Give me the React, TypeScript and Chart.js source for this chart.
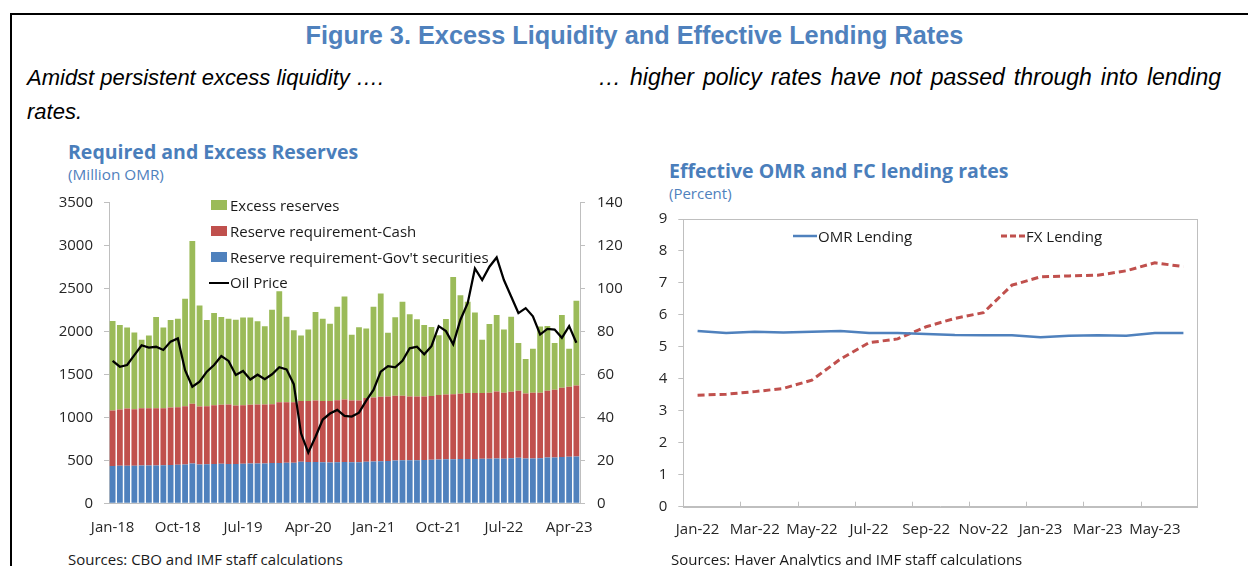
import React, { useEffect, useRef } from "react";
import { Chart, registerables } from "chart.js";

Chart.register(...registerables);

// ---------- Left chart data (Million OMR / USD per barrel) ----------
const months = (
  "Jan-18 Feb-18 Mar-18 Apr-18 May-18 Jun-18 Jul-18 Aug-18 Sep-18 Oct-18 Nov-18 Dec-18 " +
  "Jan-19 Feb-19 Mar-19 Apr-19 May-19 Jun-19 Jul-19 Aug-19 Sep-19 Oct-19 Nov-19 Dec-19 " +
  "Jan-20 Feb-20 Mar-20 Apr-20 May-20 Jun-20 Jul-20 Aug-20 Sep-20 Oct-20 Nov-20 Dec-20 " +
  "Jan-21 Feb-21 Mar-21 Apr-21 May-21 Jun-21 Jul-21 Aug-21 Sep-21 Oct-21 Nov-21 Dec-21 " +
  "Jan-22 Feb-22 Mar-22 Apr-22 May-22 Jun-22 Jul-22 Aug-22 Sep-22 Oct-22 Nov-22 Dec-22 " +
  "Jan-23 Feb-23 Mar-23 Apr-23 May-23"
).split(" ");

const govSecurities = [
  434, 437, 438, 438, 440, 440, 441, 443, 445, 448, 452, 462, 452, 455, 458, 460, 457, 458, 460, 462,
  463, 464, 470, 470, 472, 473, 485, 480, 480, 478, 475, 478, 482, 478, 478, 485, 487, 490, 493, 497,
  500, 500, 500, 503, 506, 510, 512, 513, 515, 515, 517, 519, 519, 522, 520, 525, 530, 522, 522, 525,
  532, 534, 540, 542, 545,
];

const cashReq = [
  647, 655, 666, 658, 668, 668, 667, 665, 670, 671, 679, 696, 675, 676, 684, 686, 693, 680, 682, 684,
  687, 686, 684, 707, 705, 704, 707, 710, 718, 712, 715, 722, 726, 720, 720, 740, 746, 750, 751, 755,
  752, 744, 744, 741, 742, 750, 755, 758, 760, 768, 766, 764, 768, 780, 767, 773, 780, 757, 765, 762,
  778, 788, 805, 815, 827,
];

const excessReserves = [
  1042, 985, 942, 892, 796, 846, 1061, 938, 1020, 1031, 1250, 1896, 1177, 1004, 1073, 1023, 1000, 1000, 1020, 1016,
  969, 912, 1100, 1292, 996, 838, 762, 833, 1029, 960, 902, 1088, 1200, 764, 852, 810, 1055, 1202, 741, 913,
  1094, 956, 898, 833, 806, 698, 879, 1364, 1148, 1063, 940, 621, 801, 890, 736, 875, 555, 402, 513, 771,
  755, 543, 847, 443, 986,
];

const oilPrice = [
  66.3, 63.6, 64.4, 69.0, 73.6, 72.5, 72.9, 71.4, 75.3, 76.8, 62.0, 54.3, 56.6, 61.3, 64.4, 68.6, 66.3, 59.8, 61.6, 57.7,
  59.9, 57.8, 60.1, 63.4, 62.4, 55.5, 32.6, 23.6, 31.0, 39.0, 41.8, 43.5, 40.7, 40.4, 42.2, 47.8, 52.8, 61.3, 63.9, 63.3,
  66.4, 72.2, 72.9, 69.4, 73.2, 82.5, 80.2, 74.0, 85.5, 93.2, 109.4, 104.0, 110.2, 114.5, 104.0, 96.3, 88.6, 90.9, 87.1, 78.6,
  81.2, 80.9, 77.1, 82.5, 74.8,
];

// ---------- Right chart data (Percent) ----------
const rateMonths = [
  "Jan-22", "Feb-22", "Mar-22", "Apr-22", "May-22", "Jun-22", "Jul-22", "Aug-22", "Sep-22",
  "Oct-22", "Nov-22", "Dec-22", "Jan-23", "Feb-23", "Mar-23", "Apr-23", "May-23", "Jun-23",
];
const omrLending = [5.5, 5.43, 5.47, 5.45, 5.47, 5.5, 5.43, 5.43, 5.4, 5.37, 5.36, 5.36, 5.3, 5.35, 5.36, 5.35, 5.43, 5.43];
const fxLending = [3.49, 3.52, 3.6, 3.7, 3.96, 4.62, 5.13, 5.25, 5.63, 5.89, 6.07, 6.93, 7.19, 7.22, 7.24, 7.38, 7.63, 7.51];

const BLUE = "#4f81bd";
const RED = "#c0504d";
const GREEN = "#9bbb59";
const AXIS = "#bfbfbf";
const TICKTXT = "#262626";
const TITLE = "#4a7ebb";
const FONT = "'Open Sans', 'Noto Sans', sans-serif";

const frameTicks = {
  id: "frameTicks",
  beforeDatasetsDraw(chart: any) {
    const { ctx, chartArea: a, scales } = chart;
    const x = scales.x;
    ctx.save();
    ctx.strokeStyle = AXIS;
    ctx.lineWidth = 1;
    ctx.strokeRect(Math.round(a.left) + 0.5, Math.round(a.top) + 0.5, Math.round(a.right - a.left), Math.round(a.bottom - a.top));
    for (let i = 2; i < rateMonths.length; i += 2) {
      const px = Math.round((x.getPixelForValue(i - 1) + x.getPixelForValue(i)) / 2) + 0.5;
      ctx.beginPath();
      ctx.moveTo(px, a.bottom);
      ctx.lineTo(px, a.bottom - 5);
      ctx.stroke();
    }
    ctx.restore();
  },
};

function fixV(width: number) {
  return (s: any) => {
    s.width = width;
    s.paddingTop = 0;
    s.paddingBottom = 0;
  };
}
function fixH(height: number) {
  return (s: any) => {
    s.height = height;
    s.paddingLeft = 0;
    s.paddingRight = 0;
  };
}

function Txt(props: { x: number; cy: number; size: number; lh?: number; style?: any; children: any }) {
  const lh = props.lh ?? Math.round(props.size * 1.4);
  return (
    <div
      style={{
        position: "absolute",
        left: props.x,
        top: props.cy - lh / 2,
        lineHeight: lh + "px",
        fontSize: props.size,
        whiteSpace: "nowrap",
        fontFamily: FONT,
        color: "#1a1a1a",
        ...props.style,
      }}
    >
      {props.children}
    </div>
  );
}

export default function App() {
  const leftRef = useRef<HTMLCanvasElement>(null);
  const rightRef = useRef<HTMLCanvasElement>(null);

  useEffect(() => {
    Chart.defaults.font.family = FONT;
    const tickFont = { family: FONT, size: 15 };
    const plain = (v: any) => String(v);

    const c1 = new Chart(leftRef.current!, {
      type: "bar",
      data: {
        labels: months,
        datasets: [
          {
            type: "line",
            label: "Oil Price",
            data: oilPrice,
            yAxisID: "yR",
            borderColor: "#000000",
            borderWidth: 2.25,
            pointRadius: 0,
            tension: 0,
            order: 0,
          } as any,
          { label: "Reserve requirement-Gov't securities", data: govSecurities, backgroundColor: BLUE, yAxisID: "y", order: 1, barPercentage: 0.8, categoryPercentage: 1 },
          { label: "Reserve requirement-Cash", data: cashReq, backgroundColor: RED, yAxisID: "y", order: 2, barPercentage: 0.8, categoryPercentage: 1 },
          { label: "Excess reserves", data: excessReserves, backgroundColor: GREEN, yAxisID: "y", order: 3, barPercentage: 0.8, categoryPercentage: 1 },
        ],
      },
      options: {
        animation: false,
        responsive: false,
        devicePixelRatio: 1,
        layout: { padding: { top: 12.7, left: 0, right: 0, bottom: 0 } },
        plugins: { legend: { display: false }, tooltip: { enabled: false } },
        scales: {
          x: {
            stacked: true,
            offset: true,
            grid: { display: true, drawOnChartArea: false, drawTicks: false },
            border: { display: true, color: AXIS },
            ticks: {
              autoSkip: false,
              maxRotation: 0,
              minRotation: 0,
              padding: 15,
              color: TICKTXT,
              font: tickFont,
              callback: (_v: any, i: number) => (i % 9 === 0 ? months[i] : ""),
            },
            afterFit: fixH(36.7),
          },
          y: {
            stacked: true,
            position: "left",
            min: 0,
            max: 3500,
            grid: { drawOnChartArea: false, drawTicks: true, tickLength: 5, tickColor: AXIS },
            border: { display: true, color: AXIS },
            ticks: { stepSize: 500, padding: 11, color: TICKTXT, font: tickFont, callback: plain },
            afterFit: fixV(69),
          },
          yR: {
            stacked: false,
            position: "right",
            min: 0,
            max: 140,
            grid: { drawOnChartArea: false, drawTicks: true, tickLength: 5, tickColor: AXIS },
            border: { display: true, color: AXIS },
            ticks: { stepSize: 20, padding: 12, color: TICKTXT, font: tickFont, callback: plain },
            afterFit: fixV(60),
          },
        },
      } as any,
    });

    const c2 = new Chart(rightRef.current!, {
      type: "line",
      data: {
        labels: rateMonths,
        datasets: [
          { label: "OMR Lending", data: omrLending, borderColor: BLUE, borderWidth: 2.5, pointRadius: 0, tension: 0 },
          { label: "FX Lending", data: fxLending, borderColor: RED, borderWidth: 3, borderDash: [7, 4], pointRadius: 0, tension: 0 },
        ],
      },
      options: {
        animation: false,
        responsive: false,
        devicePixelRatio: 1,
        layout: { padding: { top: 19, left: 0, right: 32.3, bottom: 0 } },
        plugins: { legend: { display: false }, tooltip: { enabled: false } },
        scales: {
          x: {
            offset: true,
            grid: { display: true, drawOnChartArea: false, drawTicks: false },
            border: { display: true, color: AXIS },
            ticks: {
              autoSkip: false,
              maxRotation: 0,
              minRotation: 0,
              padding: 14,
              color: TICKTXT,
              font: tickFont,
              callback: (_v: any, i: number) => (i % 2 === 0 ? rateMonths[i] : ""),
            },
            afterFit: fixH(38.3),
          },
          y: {
            min: 0,
            max: 9,
            grid: { drawOnChartArea: false, drawTicks: true, tickLength: 5, tickColor: AXIS },
            border: { display: true, color: AXIS },
            ticks: { stepSize: 1, padding: 11, color: TICKTXT, font: tickFont, callback: plain },
            afterFit: fixV(53.3),
          },
        },
      } as any,
      plugins: [frameTicks],
    });

    return () => {
      c1.destroy();
      c2.destroy();
    };
  }, []);

  const arial = "'Liberation Sans', Arial, sans-serif";

  return (
    <div style={{ position: "absolute", left: 0, top: 0, width: 1248, height: 566, overflow: "hidden", background: "#ffffff" }}>
      {/* frame */}
      <div style={{ position: "absolute", left: 10, top: 13, width: 1300, height: 700, border: "2px solid #000", boxSizing: "border-box" }} />

      {/* main title */}
      <div
        style={{
          position: "absolute",
          left: 0,
          width: 1269,
          top: 35 - 16,
          lineHeight: "32px",
          textAlign: "center",
          fontFamily: arial,
          fontWeight: "bold",
          fontSize: 25.3,
          color: BLUE,
          whiteSpace: "nowrap",
        }}
      >
        Figure 3. Excess Liquidity and Effective Lending Rates
      </div>
      <Txt x={27} cy={77} size={22} style={{ fontFamily: arial, fontStyle: "italic", color: "#000" }}>
        Amidst persistent excess liquidity ….
      </Txt>
      <Txt x={598} cy={77} size={23} style={{ fontFamily: arial, fontStyle: "italic", color: "#000", wordSpacing: "2.6px" }}>
        … higher policy rates have not passed through into lending
      </Txt>
      <Txt x={27} cy={111} size={22} style={{ fontFamily: arial, fontStyle: "italic", color: "#000" }}>
        rates.
      </Txt>

      {/* left panel headings */}
      <Txt x={68} cy={151} size={19.5} style={{ fontWeight: "bold", color: TITLE }}>
        Required and Excess Reserves
      </Txt>
      <Txt x={68} cy={174} size={15.3} style={{ color: BLUE }}>
        (Million OMR)
      </Txt>

      {/* right panel headings */}
      <Txt x={669} cy={170} size={19.5} style={{ fontWeight: "bold", color: TITLE }}>
        Effective OMR and FC lending rates
      </Txt>
      <Txt x={669} cy={193} size={15} style={{ color: BLUE }}>
        (Percent)
      </Txt>

      <canvas ref={leftRef} width={600} height={350} style={{ position: "absolute", left: 40, top: 190, width: 600, height: 350 }} />
      <canvas ref={rightRef} width={600} height={345} style={{ position: "absolute", left: 630, top: 200, width: 600, height: 345 }} />

      {/* left legend */}
      <div style={{ position: "absolute", left: 211, top: 200, width: 16, height: 10, background: GREEN }} />
      <Txt x={230} cy={205} size={15}>Excess reserves</Txt>
      <div style={{ position: "absolute", left: 211, top: 226, width: 16, height: 10, background: RED }} />
      <Txt x={230} cy={231} size={15}>Reserve requirement-Cash</Txt>
      <div style={{ position: "absolute", left: 211, top: 252, width: 16, height: 10, background: BLUE }} />
      <Txt x={230} cy={257} size={15}>Reserve requirement-Gov't securities</Txt>
      <div style={{ position: "absolute", left: 209, top: 281.5, width: 20, height: 2, background: "#000" }} />
      <Txt x={230} cy={282.5} size={15}>Oil Price</Txt>

      {/* right legend */}
      <svg style={{ position: "absolute", left: 792, top: 230 }} width={26} height={12}>
        <line x1={1} y1={6} x2={25} y2={6} stroke={BLUE} strokeWidth={2.5} />
      </svg>
      <Txt x={818} cy={236} size={15}>OMR Lending</Txt>
      <svg style={{ position: "absolute", left: 1000, top: 230 }} width={26} height={12}>
        <line x1={1} y1={6} x2={25} y2={6} stroke={RED} strokeWidth={3} strokeDasharray="6 3" />
      </svg>
      <Txt x={1026} cy={236} size={15}>FX Lending</Txt>

      {/* sources */}
      <Txt x={68} cy={559} size={15}>Sources: CBO and IMF staff calculations</Txt>
      <Txt x={671} cy={559} size={15}>Sources: Haver Analytics and IMF staff calculations</Txt>
    </div>
  );
}
